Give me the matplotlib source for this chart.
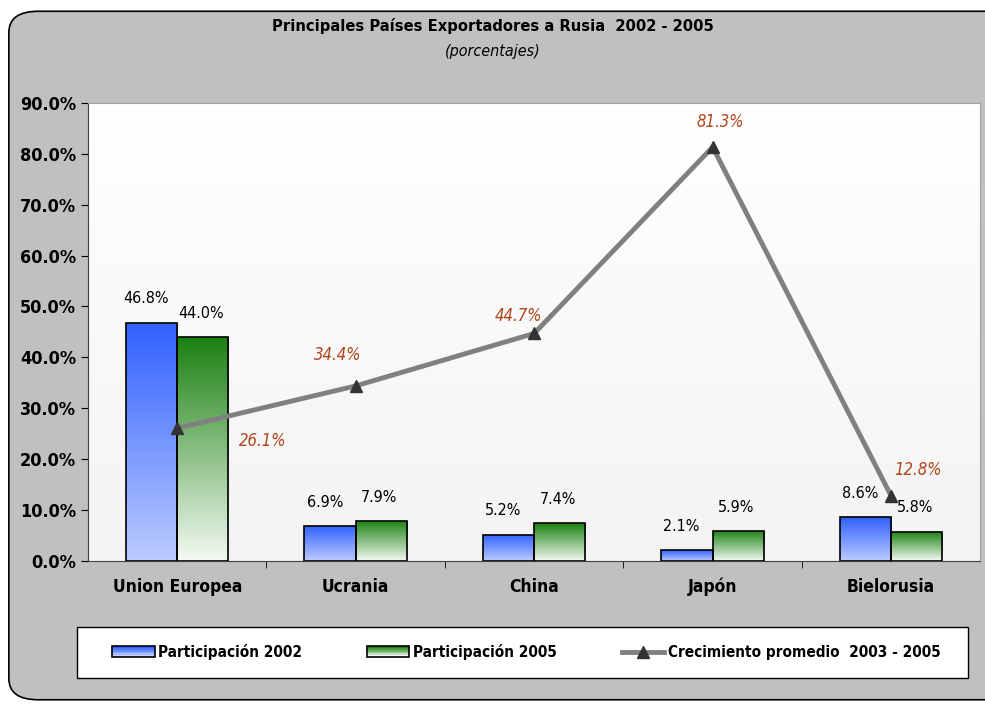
import matplotlib
matplotlib.use("Agg")
import matplotlib.pyplot as plt
import numpy as np
from matplotlib.patches import FancyBboxPatch, Rectangle
from matplotlib.lines import Line2D
from matplotlib.legend_handler import HandlerBase

plt.rcParams['font.family'] = ['DejaVu Sans']
plt.rcParams['font.stretch'] = 'condensed'

categories = ["Union Europea", "Ucrania", "China", "Japón", "Bielorusia"]
part_2002 = [46.8, 6.9, 5.2, 2.1, 8.6]
part_2005 = [44.0, 7.9, 7.4, 5.9, 5.8]
crecimiento = [26.1, 34.4, 44.7, 81.3, 12.8]

fig = plt.figure(figsize=(9.85, 7.04), dpi=100)
fig.patch.set_facecolor("white")

# outer rounded box
box = FancyBboxPatch((0.009, 0.006), 1.05, 0.978, boxstyle="round,pad=0,rounding_size=0.03",
                     transform=fig.transFigure, facecolor="#c0c0c0", edgecolor="black",
                     linewidth=1.2, zorder=-5)
fig.patches.append(box)

# legend frame drawn by hand so its size matches
legframe = Rectangle((77 / 985, 1 - 678 / 704), (968 - 77) / 985, 51 / 704, transform=fig.transFigure,
                     facecolor="white", edgecolor="black", linewidth=1.0, zorder=-4)
fig.patches.append(legframe)

ax = fig.add_axes([0.0893, 0.203, 0.906, 0.651])

# soft white -> light gray background like the original
bg = np.linspace(0.955, 1.0, 64).reshape(-1, 1)
ax.imshow(np.dstack([bg, bg, bg]), extent=[-0.5, 4.5, 0, 90], origin="lower", aspect="auto", zorder=0)

x = np.arange(len(categories))
w = 0.287


def grad_bar(ax, x0, h, top, bottom):
    rect = Rectangle((x0, 0), w, h, facecolor="none", edgecolor="black", linewidth=1.2, zorder=3)
    ax.add_patch(rect)
    t = np.linspace(0, 1, 256).reshape(-1, 1)
    c1 = np.array(matplotlib.colors.to_rgb(top))
    c2 = np.array(matplotlib.colors.to_rgb(bottom))
    img = c2 + (c1 - c2) * t[..., None]
    im = ax.imshow(img, extent=[x0, x0 + w, 0, h], origin="lower", aspect="auto", zorder=2)
    im.set_clip_path(rect)


for i in range(len(categories)):
    grad_bar(ax, x[i] - w, part_2002[i], "#3060ff", "#bccbff")
    grad_bar(ax, x[i], part_2005[i], "#1a8010", "#f4faf3")
    ax.text(x[i] - w / 2 - 0.03, part_2002[i] + 3.2, f"{part_2002[i]:.1f}%", ha="center", va="bottom",
            fontsize=11.5)
    ax.text(x[i] + w / 2 - 0.01, part_2005[i] + 3.2, f"{part_2005[i]:.1f}%", ha="center", va="bottom",
            fontsize=11.5)

ax.plot(x, crecimiento, color="#808080", linewidth=3.5, zorder=4)
ax.plot(x, crecimiento, linestyle="none", marker="^", color="#333333", markersize=9, zorder=5)

offsets = [(0.48, -2.5), (-0.1, 6.0), (-0.09, 3.5), (0.04, 5.0), (0.15, 5.0)]
for i, v in enumerate(crecimiento):
    dx, dy = offsets[i]
    ax.text(x[i] + dx, v + dy, f"{v:.1f}%", ha="center", va="center", fontsize=12,
            style="italic", color="#b0461c")

ax.set_xlim(-0.5, len(categories) - 0.5)
ax.set_ylim(0, 90)
ax.set_yticks(np.arange(0, 91, 10))
ax.set_yticklabels([f"{v:.1f}%" for v in np.arange(0, 91, 10)], fontsize=13, fontweight="bold")
ax.set_xticks(x)
ax.set_xticklabels(categories, fontsize=12.5, fontweight="bold")
ax.tick_params(axis="x", length=0, pad=12)
ax.set_xticks(np.arange(0.5, len(categories) - 0.5, 1), minor=True)
ax.tick_params(axis="x", which="minor", length=5)
ax.tick_params(axis="y", length=5)
for s in ["top", "right"]:
    ax.spines[s].set_color("#a0a0a0")
ax.spines["left"].set_color("#404040")
ax.spines["bottom"].set_color("#404040")

fig.text(0.5, 0.963, "Principales Países Exportadores a Rusia  2002 - 2005", ha="center", va="center",
         fontsize=11.8, fontweight="bold")
fig.text(0.5, 0.927, "(porcentajes)", ha="center", va="center", fontsize=11.5, style="italic")


class GradHandler(HandlerBase):
    def __init__(self, top, bottom):
        super().__init__()
        self.top = top
        self.bottom = bottom

    def create_artists(self, legend, orig_handle, xdescent, ydescent, width, height, fontsize, trans):
        arts = []
        n = 6
        c1 = np.array(matplotlib.colors.to_rgb(self.top))
        c2 = np.array(matplotlib.colors.to_rgb(self.bottom))
        for k in range(n):
            f = k / (n - 1)
            c = c2 + (c1 - c2) * f
            r = Rectangle((-xdescent, -ydescent + height * k / n), width, height / n,
                          facecolor=c, edgecolor="none", transform=trans)
            arts.append(r)
        arts.append(Rectangle((-xdescent, -ydescent), width, height, facecolor="none",
                              edgecolor="black", linewidth=1.2, transform=trans))
        return arts


h1 = Rectangle((0, 0), 1, 1)
h2 = Rectangle((0, 0), 1, 1)
h3 = Line2D([], [], color="#808080", linewidth=3.5, marker="^", markerfacecolor="#333333",
            markeredgecolor="#333333", markersize=8)
leg = fig.legend([h1, h2, h3], ["Participación 2002", "Participación 2005", "Crecimiento promedio  2003 - 2005"],
                 handler_map={h1: GradHandler("#3060ff", "#c8d4ff"), h2: GradHandler("#1a8010", "#f4faf3")},
                 loc="center", bbox_to_anchor=(0.5345, 0.0739), bbox_transform=fig.transFigure,
                 ncol=3, frameon=False,
                 prop={"weight": "bold", "size": 11, "stretch": "condensed"}, columnspacing=4.25,
                 handlelength=2.75, handletextpad=0.25, borderpad=0, borderaxespad=0)

fig.savefig("out.png", dpi=100)
